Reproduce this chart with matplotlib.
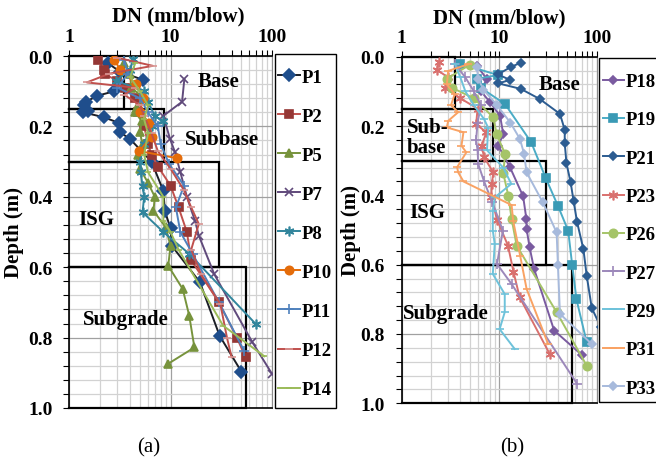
import numpy as np
import matplotlib
matplotlib.use("Agg")
import matplotlib.pyplot as plt
from matplotlib.patches import Rectangle
from matplotlib.ticker import NullFormatter

plt.rcParams["font.family"] = ["Liberation Serif", "DejaVu Serif"]
plt.rcParams["font.weight"] = "bold"
plt.rcParams["axes.labelweight"] = "bold"

# ---- layer boxes (same for both panels) ----
layer_tops = [0.0, 0.15, 0.30, 0.60]
layer_bottoms = [0.15, 0.30, 0.60, 1.00]
layer_max_dn = [3.5, 8.6, 30, 56]

# ---- panel (a) ----
P1_depth = [0.02, 0.045, 0.068, 0.10, 0.113, 0.13, 0.14, 0.156, 0.16, 0.174, 0.19, 0.217, 0.236, 0.30, 0.383, 0.44, 0.49, 0.539, 0.643, 0.795, 0.897]
P1_dn = [2.4, 3.2, 5.4, 2.8, 1.9, 1.47, 1.42, 1.53, 1.38, 2.2, 3.1, 3.2, 4.0, 6.5, 8.5, 8.8, 10.0, 10.3, 19.5, 30.5, 50]

P2_depth = [0.01, 0.04, 0.052, 0.07, 0.09, 0.12, 0.16, 0.20, 0.25, 0.28, 0.316, 0.368, 0.43, 0.50, 0.58, 0.70, 0.80, 0.856]
P2_dn = [1.95, 2.2, 2.25, 3.0, 3.6, 4.5, 4.8, 5.5, 6.0, 6.5, 7.6, 10.0, 12.0, 14.5, 16.0, 30, 45, 55]

P5_depth = [0.02, 0.05, 0.09, 0.12, 0.15, 0.16, 0.185, 0.217, 0.25, 0.28, 0.32, 0.36, 0.40, 0.44, 0.487, 0.54, 0.596, 0.662, 0.738, 0.828, 0.875]
P5_dn = [3.5, 4.0, 4.1, 5.5, 4.6, 4.5, 5.2, 5.0, 5.3, 4.8, 5.0, 6.0, 7.0, 6.8, 9.0, 10.0, 9.5, 13.2, 15.3, 17.2, 9.4]

P7_depth = [0.065, 0.13, 0.17, 0.236, 0.274, 0.33, 0.40, 0.47, 0.51, 0.62, 0.813, 0.903]
P7_dn = [13.7, 13.0, 8.5, 9.9, 11.1, 12.5, 14.5, 17.5, 19.0, 27, 64, 100]

P8_depth = [0.008, 0.04, 0.07, 0.10, 0.13, 0.17, 0.185, 0.20, 0.25, 0.30, 0.33, 0.37, 0.40, 0.444, 0.50, 0.562, 0.761]
P8_dn = [4.3, 4.0, 2.9, 5.5, 6.0, 7.0, 8.4, 6.5, 5.5, 5.0, 5.1, 5.3, 5.5, 5.3, 8.5, 15.3, 69]

P10_depth = [0.01, 0.04, 0.08, 0.12, 0.16, 0.19, 0.23, 0.27, 0.29]
P10_dn = [2.8, 3.2, 4.6, 5.4, 5.0, 6.2, 6.5, 4.9, 11.5]

P11_depth = [0.01, 0.05, 0.09, 0.12, 0.16, 0.20, 0.25, 0.307, 0.368, 0.43, 0.50, 0.562, 0.70, 0.837]
P11_dn = [3.5, 3.8, 3.0, 5.0, 6.0, 7.5, 8.0, 9.7, 13.6, 11.3, 12.5, 16.5, 30, 53]

P12_depth = [0.005, 0.028, 0.05, 0.075, 0.09, 0.11, 0.14, 0.17, 0.22, 0.27, 0.32, 0.38, 0.43, 0.477, 0.55, 0.62, 0.705, 0.80, 0.856]
P12_dn = [3.0, 6.7, 2.5, 1.5, 4.5, 3.5, 5.0, 5.5, 6.5, 7.5, 10.0, 13.5, 16.0, 19.0, 16.0, 20.0, 31, 36, 40]

P14_depth = [0.02, 0.06, 0.10, 0.14, 0.18, 0.22, 0.28, 0.33, 0.40, 0.47, 0.50, 0.55, 0.766, 0.853]
P14_dn = [4.5, 4.0, 5.0, 6.0, 5.5, 6.0, 5.5, 6.0, 8.5, 8.5, 10.0, 12.0, 33, 84]

# ---- panel (b) ----
P18_depth = [0.026, 0.064, 0.10, 0.13, 0.17, 0.223, 0.257, 0.319, 0.403, 0.468, 0.497, 0.55, 0.612, 0.79, 0.86]
P18_dn = [5.9, 7.45, 6.5, 8.0, 10.2, 11.0, 9.8, 12.9, 17.6, 19.0, 19.1, 20.5, 22.8, 36.6, 70]

P19_depth = [0.02, 0.053, 0.064, 0.09, 0.137, 0.247, 0.35, 0.43, 0.502, 0.60, 0.70, 0.824]
P19_dn = [4.0, 9.7, 5.9, 6.5, 11.5, 21.3, 30, 40, 51, 56, 62, 79]

P21_depth = [0.017, 0.029, 0.051, 0.067, 0.077, 0.093, 0.122, 0.165, 0.211, 0.25, 0.308, 0.362, 0.417, 0.478, 0.555, 0.632, 0.725, 0.78]
P21_dn = [16.8, 13.3, 9.7, 12.9, 9.8, 16.7, 26, 42, 47, 47, 49, 54, 58, 63, 73, 79, 89, 110]

P23_depth = [0.014, 0.038, 0.06, 0.09, 0.12, 0.15, 0.195, 0.218, 0.257, 0.29, 0.334, 0.367, 0.406, 0.47, 0.545, 0.62, 0.694, 0.858]
P23_dn = [2.4, 2.3, 3.0, 2.8, 4.0, 6.0, 5.8, 7.4, 6.6, 7.0, 8.7, 8.4, 8.3, 9.5, 12.3, 14.0, 16.2, 33]

P26_depth = [0.023, 0.064, 0.09, 0.12, 0.175, 0.223, 0.281, 0.336, 0.401, 0.468, 0.545, 0.737, 0.891]
P26_dn = [5.0, 2.9, 3.3, 5.5, 8.7, 9.4, 11.5, 11.0, 12.4, 13.4, 15.1, 38.8, 78.8]

P27_depth = [0.02, 0.06, 0.10, 0.14, 0.19, 0.24, 0.27, 0.31, 0.36, 0.42, 0.502, 0.598, 0.656, 0.944]
P27_dn = [3.5, 4.5, 5.5, 6.5, 6.0, 5.8, 6.0, 6.1, 7.0, 8.5, 10.9, 9.5, 13.4, 63]

P29_depth = [0.02, 0.06, 0.10, 0.14, 0.18, 0.205, 0.27, 0.32, 0.367, 0.406, 0.444, 0.502, 0.54, 0.627, 0.685, 0.737, 0.786, 0.843]
P29_dn = [3.5, 4.0, 4.5, 5.5, 7.0, 7.7, 7.5, 11.0, 13.3, 9.0, 8.6, 8.6, 9.0, 8.6, 11.4, 11.4, 10.1, 14.4]

P31_depth = [0.022, 0.041, 0.08, 0.108, 0.14, 0.16, 0.185, 0.204, 0.218, 0.257, 0.276, 0.319, 0.334, 0.36, 0.428, 0.473, 0.574, 0.67, 0.829]
P31_dn = [4.8, 3.0, 2.9, 3.5, 3.2, 3.8, 3.0, 2.9, 4.3, 4.1, 4.6, 3.7, 3.8, 4.3, 13.4, 13.9, 16.4, 19.1, 31.8]

P33_depth = [0.031, 0.064, 0.095, 0.14, 0.19, 0.237, 0.28, 0.334, 0.42, 0.507, 0.60, 0.742, 0.829]
P33_dn = [5.9, 6.1, 6.9, 9.5, 13.0, 16.3, 18.0, 19.1, 28, 38.8, 40, 42, 89]

asterisk = (6, 2, 0)

series_a = [
    ("P1", P1_depth, P1_dn, "#1B1E26", "#1F4E8C", "D", 6),
    ("P2", P2_depth, P2_dn, "#C0504D", "#953735", "s", 6),
    ("P5", P5_depth, P5_dn, "#77933C", "#77933C", "^", 6),
    ("P7", P7_depth, P7_dn, "#604A7B", "#604A7B", "x", 6),
    ("P8", P8_depth, P8_dn, "#31859C", "#31859C", asterisk, 7),
    ("P10", P10_depth, P10_dn, "#E46C0A", "#E46C0A", "o", 6),
    ("P11", P11_depth, P11_dn, "#4F81BD", "#4F81BD", "+", 7),
    ("P12", P12_depth, P12_dn, "#C0504D", "#D99694", "_", 6),
    ("P14", P14_depth, P14_dn, "#9BBB59", "#9BBB59", "_", 5),
]

series_b = [
    ("P18", P18_depth, P18_dn, "#7A5BA0", "#7A5BA0", "D", 4.5),
    ("P19", P19_depth, P19_dn, "#4BACC6", "#3A9AB5", "s", 6),
    ("P21", P21_depth, P21_dn, "#2C5C91", "#2C5C91", "D", 4.5),
    ("P23", P23_depth, P23_dn, "#D9706E", "#D9706E", asterisk, 7),
    ("P26", P26_depth, P26_dn, "#A5C468", "#A5C468", "o", 6),
    ("P27", P27_depth, P27_dn, "#9C88BA", "#9C88BA", "+", 7),
    ("P29", P29_depth, P29_dn, "#6EC2DA", "#6EC2DA", "_", 6),
    ("P31", P31_depth, P31_dn, "#F9A263", "#F9A263", "_", 6),
    ("P33", P33_depth, P33_dn, "#A7BADC", "#A7BADC", "D", 4.5),
]


def setup_axes(ax):
    ax.set_xscale("log")
    ax.set_xlim(1, 100)
    ax.set_ylim(1.0, 0.0)
    ax.xaxis.tick_top()
    ax.xaxis.set_label_position("top")
    ax.set_xticks([1, 10, 100])
    ax.set_xticklabels(["1", "10", "100"])
    ax.xaxis.set_minor_formatter(NullFormatter())
    ax.set_yticks(np.arange(0, 1.01, 0.2))
    ax.set_yticklabels(["%.1f" % v for v in np.arange(0, 1.01, 0.2)])
    ax.set_yticks(np.arange(0, 1.001, 0.04), minor=True)
    ax.grid(which="major", color="#A0A0A0", lw=0.9)
    ax.grid(which="minor", color="#D2D2D2", lw=0.9)
    ax.set_axisbelow(True)
    ax.tick_params(axis="both", which="both", direction="out", length=4, width=0.8,
                   labelsize=14)
    ax.tick_params(axis="x", which="both", pad=4, top=True, bottom=False)
    ax.tick_params(axis="y", which="both", pad=8)
    for s in ["top", "left", "bottom"]:
        ax.spines[s].set_color("black")
        ax.spines[s].set_linewidth(1.2)
    ax.spines["right"].set_color("#8C8C8C")
    ax.set_xlabel("DN (mm/blow)", fontsize=15, fontweight="bold")
    ax.set_ylabel("Depth (m)", fontsize=15, fontweight="bold")
    # layer boxes
    for top, bot, dn in zip(layer_tops, layer_bottoms, layer_max_dn):
        ax.plot([1, dn, dn, 1], [top, top, bot, bot], color="black", lw=1.6, zorder=2.5,
                clip_on=False, solid_joinstyle="miter")


def draw_series(ax, series):
    for name, d, dn, lc, mc, mk, ms in series:
        ax.plot(dn, d, color=lc, lw=1.4, marker=mk, markersize=ms, markerfacecolor=mc,
                markeredgecolor=mc, markeredgewidth=1.2, label=name, zorder=3)


def draw_legend(fig, ax, x0, y_first, spacing, frame):
    handles, labels = ax.get_legend_handles_labels()
    leg = fig.legend(handles, labels, loc="upper left", frameon=False, fontsize=13.5,
                     bbox_to_anchor=(x0 / 656, 1 - (y_first - 9) / 464),
                     borderpad=0, borderaxespad=0, handlelength=1.15, handletextpad=0.1,
                     labelspacing=spacing)
    fx0, fy0, fx1, fy1 = frame
    fig.add_artist(Rectangle((fx0 / 656, 1 - fy1 / 464), (fx1 - fx0) / 656, (fy1 - fy0) / 464,
                             transform=fig.transFigure, fill=False, edgecolor="black", lw=1.0))
    return leg


fig = plt.figure(figsize=(6.56, 4.64), dpi=100)

ax1 = fig.add_axes([69 / 656, 1 - 409 / 464, 203 / 656, 352 / 464])
setup_axes(ax1)
draw_series(ax1, series_a)
ax1.yaxis.set_label_coords(-0.22, 0.5)
ax1.xaxis.set_label_coords(0.54, 1.10)
ax1.text(29.4, 0.071, "Base", fontsize=15, ha="center", va="center", zorder=5)
ax1.text(31.9, 0.236, "Subbase", fontsize=15, ha="center", va="center", zorder=5)
ax1.text(1.23, 0.463, "ISG", fontsize=15, ha="left", va="center", zorder=5)
ax1.text(1.36, 0.747, "Subgrade", fontsize=15, ha="left", va="center", zorder=5)
draw_legend(fig, ax1, 278, 78.5, 1.17, (275, 55, 336, 409))

ax2 = fig.add_axes([401.7 / 656, 1 - 404.3 / 464, 195 / 656, 346.6 / 464])
setup_axes(ax2)
draw_series(ax2, series_b)
ax2.yaxis.set_label_coords(-0.21, 0.5)
ax2.xaxis.set_label_coords(0.5, 1.10)
ax2.text(42, 0.079, "Base", fontsize=15, ha="center", va="center", zorder=5)
ax2.text(1.13, 0.232, "Sub-\nbase", fontsize=15, ha="left", va="center", zorder=5,
         linespacing=1.0)
ax2.text(1.19, 0.449, "ISG", fontsize=15, ha="left", va="center", zorder=5)
ax2.text(1.02, 0.74, "Subgrade", fontsize=15, ha="left", va="center", zorder=5)
draw_legend(fig, ax2, 602.7, 83, 1.13, (599, 59, 662, 403))

fig.text(149 / 656, 1 - 448 / 464, "(a)", fontsize=15, fontweight="normal",
         ha="center", va="center")
fig.text(511.7 / 656, 1 - 448 / 464, "(b)", fontsize=15, fontweight="normal",
         ha="center", va="center")

fig.savefig("out.png", dpi=100)
